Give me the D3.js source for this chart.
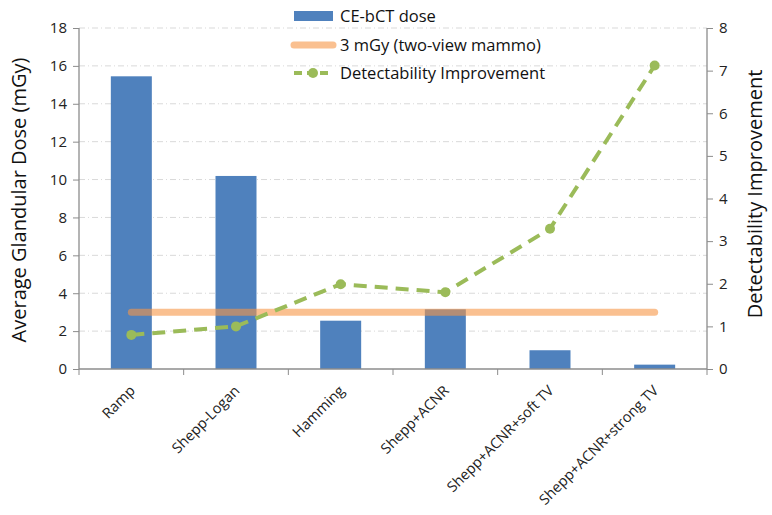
<!DOCTYPE html>
<html><head><meta charset="utf-8">
<script src="https://cdn.jsdelivr.net/npm/d3@7"></script>
<style>body{margin:0;background:#fff}svg{font-family:"Open Sans",Lato,sans-serif}</style>
</head><body><svg id="c" width="772" height="515"></svg>
<script>
const categories = ["Ramp","Shepp-Logan","Hamming","Shepp+ACNR","Shepp+ACNR+soft TV","Shepp+ACNR+strong TV"];
const doseValues = [15.45, 10.19, 2.55, 3.15, 0.99, 0.23];
const referenceDose = [3, 3, 3, 3, 3, 3];
const detectability = [0.80, 1.0, 1.99, 1.80, 3.29, 7.12];
const leftTicks = [0,2,4,6,8,10,12,14,16,18];
const rightTicks = [0,1,2,3,4,5,6,7,8];
const seriesNames = ["CE-bCT dose","3 mGy (two-view mammo)","Detectability Improvement"];

const svg = d3.select("#c");
const L = 79, R = 707, T = 28, B = 369;
const xb = d3.scaleBand().domain(categories).range([L, R]);
const yL = d3.scaleLinear().domain([0,18]).range([B,T]);
const yR = d3.scaleLinear().domain([0,8]).range([B,T]);
const axisColor = "#8c8c8c";

// gridlines
svg.append("g").selectAll("line").data(leftTicks.filter(d=>d>0)).join("line")
  .attr("x1", L).attr("x2", R).attr("y1", d=>yL(d)).attr("y2", d=>yL(d))
  .attr("stroke", "#d9d9d9").attr("stroke-width", 1).attr("stroke-dasharray", "6,3,1,3");

// bars
svg.append("g").selectAll("rect").data(categories).join("rect")
  .attr("x", d=>xb(d) + xb.bandwidth()/2 - 20.5)
  .attr("width", 41)
  .attr("y", (d,i)=>yL(doseValues[i]))
  .attr("height", (d,i)=>B - yL(doseValues[i]))
  .attr("fill", "#4f81bd");

// 3 mGy line
const cx = d => xb(d) + xb.bandwidth()/2;
svg.append("path").datum(categories)
  .attr("d", d3.line().x(d=>cx(d)).y((d,i)=>yL(referenceDose[i])))
  .attr("fill","none").attr("stroke","#f79646").attr("stroke-opacity",0.6)
  .attr("stroke-width",7).attr("stroke-linecap","round");

// axes
const gL = svg.append("g").attr("transform",`translate(${L},0)`)
  .call(d3.axisLeft(yL).tickValues(leftTicks).tickSize(6).tickPadding(6));
const gR = svg.append("g").attr("transform",`translate(${R},0)`)
  .call(d3.axisRight(yR).tickValues(rightTicks).tickSize(6).tickPadding(6));
const gB = svg.append("g").attr("transform",`translate(0,${B})`)
  .call(d3.axisBottom(xb).tickSize(0).tickFormat(""));
svg.append("g").selectAll("line").data(d3.range(categories.length+1)).join("line")
  .attr("x1", i=>L + i*xb.step()).attr("x2", i=>L + i*xb.step())
  .attr("y1", B).attr("y2", B+6).attr("stroke", axisColor);
[gL,gR,gB].forEach(g=>{
  g.selectAll(".domain").attr("stroke", axisColor).attr("stroke-width",1.3);
  g.selectAll(".tick line").attr("stroke", axisColor);
  g.selectAll("text").attr("fill","#222").style("font-size","15px").style("font-family","'Open Sans',sans-serif");
});
gL.select(".domain").attr("d",`M0,${T}V${B}`);
gR.select(".domain").attr("d",`M0,${T}V${B}`);
gB.select(".domain").attr("d",`M${L},0H${R}`);

// x labels
svg.append("g").selectAll("text").data(categories).join("text")
  .attr("transform", d=>`translate(${cx(d)+1},${B+19}) rotate(-45)`)
  .attr("text-anchor","end").attr("dy","0.35em")
  .style("font-size","14.5px").attr("fill","#222").text(d=>d);

// detectability line
svg.append("path").datum(categories)
  .attr("d", d3.line().x(d=>cx(d)).y((d,i)=>yR(detectability[i])))
  .attr("fill","none").attr("stroke","#9bbb59").attr("stroke-width",4)
  .attr("stroke-dasharray","13,8");
svg.append("g").selectAll("circle").data(categories).join("circle")
  .attr("cx", d=>cx(d)).attr("cy",(d,i)=>yR(detectability[i])).attr("r",5)
  .attr("fill","#9bbb59");

// axis titles
svg.append("text").attr("transform",`translate(26,200) rotate(-90)`)
  .attr("text-anchor","middle").style("font-size","20px").attr("fill","#111")
  .text("Average Glandular Dose (mGy)");
svg.append("text").attr("transform",`translate(762,194) rotate(-90)`)
  .attr("text-anchor","middle").style("font-size","20px").attr("fill","#111")
  .text("Detectability Improvement");

// legend
const lg = svg.append("g");
const ly = [16, 45, 73];
lg.append("rect").attr("x",294).attr("y",ly[0]-5).attr("width",39).attr("height",10).attr("fill","#4f81bd");
lg.append("line").attr("x1",294).attr("x2",333).attr("y1",ly[1]).attr("y2",ly[1])
  .attr("stroke","#f79646").attr("stroke-opacity",0.6).attr("stroke-width",7).attr("stroke-linecap","round");
lg.append("line").attr("x1",294).attr("x2",333).attr("y1",ly[2]).attr("y2",ly[2])
  .attr("stroke","#9bbb59").attr("stroke-width",4).attr("stroke-dasharray","8,5");
lg.append("circle").attr("cx",313).attr("cy",ly[2]).attr("r",5).attr("fill","#9bbb59");
lg.selectAll("text.l").data(seriesNames).join("text").attr("class","l")
  .attr("x",340).attr("y",(d,i)=>ly[i]).attr("dy","0.35em")
  .style("font-size","16.5px").attr("fill","#111").text(d=>d);
</script></body></html>
